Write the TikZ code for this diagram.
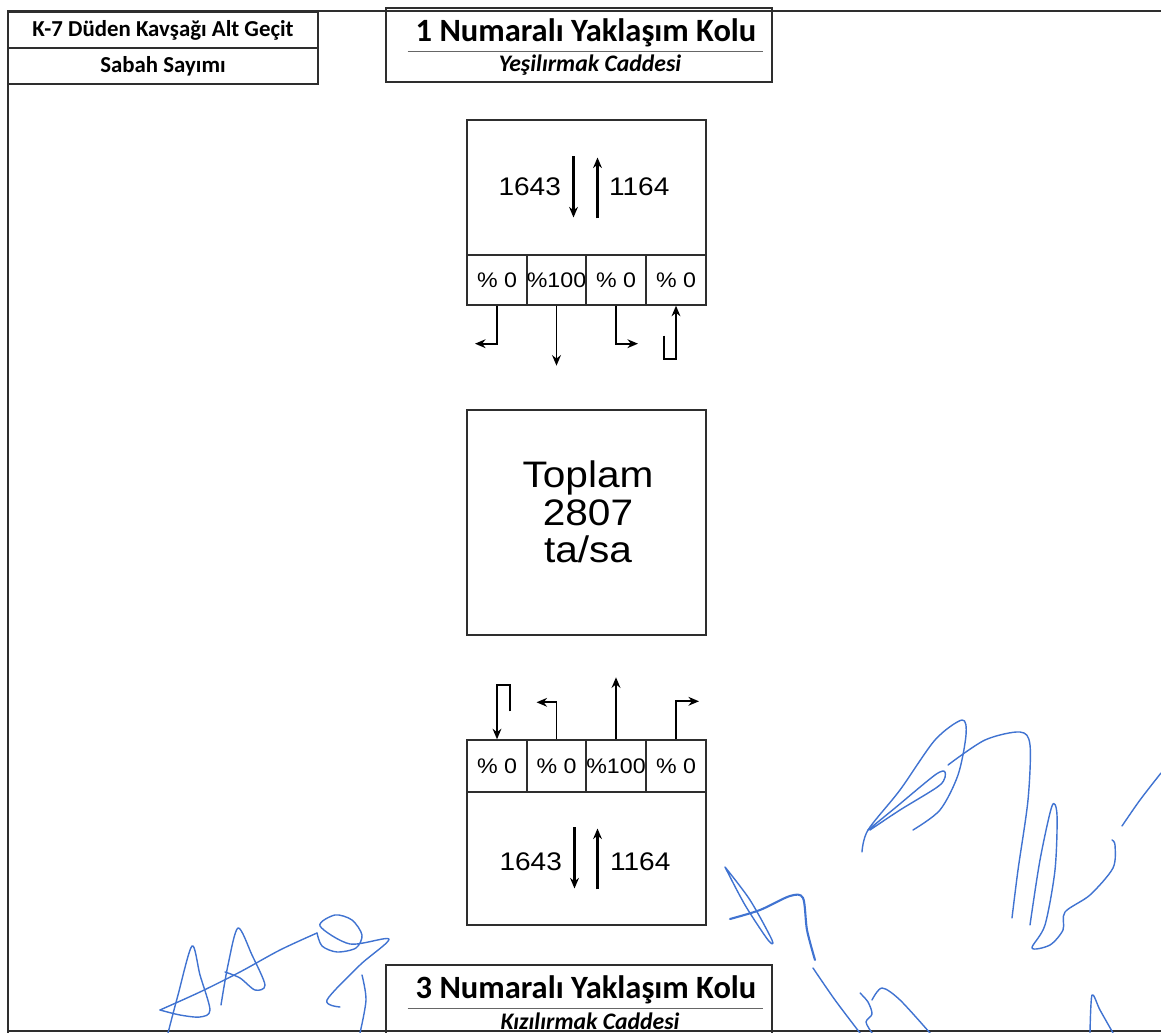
\documentclass[tikz,border=0pt]{standalone}
\usepackage{fontspec}
\setmainfont{Liberation Sans}
\newfontfamily\sayiyazi[FakeStretch=1.1]{Liberation Sans}
\newfontfamily\baslikyazi{Carlito}
\usetikzlibrary{arrows.meta,calc}
\definecolor{SigClr}{rgb}{0.25,0.45,0.82}
\definecolor{FrameClr}{rgb}{0.18,0.18,0.18}

\begin{document}
\begin{tikzpicture}[x=0.02cm,y=-0.02cm,
  box/.style={draw=FrameClr,line width=0.8pt,inner sep=0pt},
  cell/.style={box,minimum width=1.195cm,minimum height=1cm,font=\sayiyazi\fontsize{12}{14}\selectfont},
  sayi/.style={font=\sayiyazi\fontsize{14.5}{17}\selectfont,inner sep=1pt},
  head/.style={font=\baslikyazi\bfseries\fontsize{13}{15}\selectfont},
  title/.style={font=\baslikyazi\bfseries\fontsize{18.5}{21}\selectfont},
  street/.style={font=\baslikyazi\bfseries\itshape\fontsize{13.5}{15}\selectfont},
  flow/.style={line width=1.1pt,-{Stealth[length=6pt,width=5pt]}},
  sig/.style={SigClr,line width=0.8pt,line cap=round,line join=round}]

\useasboundingbox (0,0) rectangle (1161,1033);
\draw[line width=1.2pt,FrameClr] (1161,11) -- (8,11) -- (8,1033);
\draw[line width=0.8pt,FrameClr] (8,1031) -- (1161,1031);

\node[box,head,minimum width=6.2cm,minimum height=0.72cm] (kavsak) at (163,30) {K-7 Düden Kavşağı Alt Geçit};
\node[box,head,minimum width=6.2cm,minimum height=0.72cm] (sayim) at (163,66) {Sabah Sayımı};

\node[box,minimum width=7.72cm,minimum height=1.48cm] (kol1baslik) at (579,45) {};
\node[title] (kol1ad) at (586,33) {1 Numaralı Yaklaşım Kolu};
\draw[gray!80!black,line width=0.8pt] (kol1ad.south west) ++(-2,-2) coordinate (u1a) -- (u1a -| kol1ad.south east);
\node[street] (kol1cad) at (590,65) {Yeşilırmak Caddesi};

\node[box,minimum width=4.78cm,minimum height=2.7cm] (kol1) at (586.5,187.5) {};
\node[cell] (k1c1) at (497,280) {\% 0};
\node[cell] (k1c2) at (556.5,280) {\%100};
\node[cell] (k1c3) at (616,280) {\% 0};
\node[cell] (k1c4) at (676,280) {\% 0};
\node[sayi,anchor=east] (k1giris) at (563,187) {1643};
\node[sayi,anchor=west] (k1cikis) at (607,187) {1164};
\draw[flow,line width=1.3pt] ($(kol1.center)+(-13,-31)$) -- ++(0,61);
\draw[flow,line width=1.3pt] ($(kol1.center)+(11,31)$) -- ++(0,-61);

\draw[flow] (k1c1.south) -- ++(0,38) -- ++(-22,0);
\draw[flow] (k1c2.south) -- ++(0,60);
\draw[flow] (k1c3.south) -- ++(0,38) -- ++(22,0);
\draw[flow] ($(k1c4.south)+(-12,30)$) |- ($(k1c4.south)+(0,53)$) -- (k1c4.south);

\node[box,minimum width=4.78cm,minimum height=4.5cm] (toplam) at (586.5,522.5) {};
\node[font=\sayiyazi\fontsize{21}{21.5}\selectfont,align=center] (toplamyazi) at (588,512) {Toplam\\2807\\ta/sa};

\node[cell,minimum height=1.04cm] (k3c1) at (497,766) {\% 0};
\node[cell,minimum height=1.04cm] (k3c2) at (556.5,766) {\% 0};
\node[cell,minimum height=1.04cm] (k3c3) at (616,766) {\%100};
\node[cell,minimum height=1.04cm] (k3c4) at (676,766) {\% 0};
\node[box,minimum width=4.78cm,minimum height=2.66cm] (kol3) at (586.5,858.5) {};
\node[sayi,anchor=east] (k3giris) at (564,862) {1643};
\node[sayi,anchor=west] (k3cikis) at (608,862) {1164};
\draw[flow,line width=1.3pt] ($(kol3.center)+(-12,-31)$) -- ++(0,61);
\draw[flow,line width=1.3pt] ($(kol3.center)+(11,31)$) -- ++(0,-61);

\draw[flow] ($(k3c1.north)+(13,-28)$) |- ($(k3c1.north)+(0,-54)$) -- (k3c1.north);
\draw[flow] (k3c2.north) -- ++(0,-37) -- ++(-20,0);
\draw[flow] (k3c3.north) -- ++(0,-62);
\draw[flow] (k3c4.north) -- ++(0,-38) -- ++(23,0);

\node[box,minimum width=7.72cm,minimum height=1.48cm] (kol3baslik) at (579,1002) {};
\node[title] (kol3ad) at (586,990) {3 Numaralı Yaklaşım Kolu};
\draw[gray!80!black,line width=0.8pt] (kol3ad.south west) ++(-2,-2) coordinate (u3a) -- (u3a -| kol3ad.south east);
\node[street] (kol3cad) at (590,1021) {Kızılırmak Caddesi};

% imzalar
\draw[sig] plot[smooth] coordinates {(160,1010) (200,992) (240,972) (280,950) (317,933)};
\draw[sig] plot[smooth] coordinates {(168,1033) (178,995) (192,946) (200,975) (210,1010) (200,1017) (180,1015) (160,1010)};
\draw[sig] plot[smooth] coordinates {(221,1005) (228,965) (238,928) (252,955) (265,985) (255,990) (240,978) (225,972)};
\draw[sig] plot[smooth] coordinates {(317,933) (322,946) (337,952) (356,948) (362,935) (352,920) (335,915) (320,926) (350,944) (389,939) (360,965) (327,1000) (340,1007)};
\draw[sig] plot[smooth] coordinates {(362,975) (366,1000) (360,1033)};
\draw[sig] plot[smooth] coordinates {(725,867) (750,900) (772,940) (768,940) (745,905) (725,867)};
\draw[sig,line width=1.2pt] plot[smooth] coordinates {(730,919) (760,910) (790,896) (803,898) (807,930) (815,960)};
\draw[sig] plot[smooth] coordinates {(813,968) (835,1000) (860,1033)};
\draw[sig] plot[smooth] coordinates {(860,993) (868,1002) (872,1014) (866,1022) (872,1033)};
\draw[sig] plot[smooth] coordinates {(872,1000) (882,988) (900,1000) (930,1033)};
\draw[sig] plot[smooth] coordinates {(862,852) (868,830) (900,790) (935,740) (962,720) (966,735) (958,775) (940,810) (913,830)};
\draw[sig] plot[smooth] coordinates {(868,830) (895,808) (935,775) (945,772) (940,785) (900,810) (870,830)};
\draw[sig] plot[smooth] coordinates {(948,765) (985,740) (1020,732) (1030,745) (1028,800) (1018,870) (1012,918)};
\draw[sig] plot[smooth] coordinates {(1030,925) (1040,860) (1052,806) (1057,815) (1055,870) (1045,925) (1032,948) (1050,945) (1063,930) (1065,912) (1090,895) (1113,868) (1115,845) (1112,840)};
\draw[sig] plot[smooth] coordinates {(1122,826) (1140,800) (1161,773)};
\draw[sig] plot[smooth] coordinates {(1090,1033) (1092,995) (1100,1010) (1113,1033)};
\end{tikzpicture}
\end{document}
